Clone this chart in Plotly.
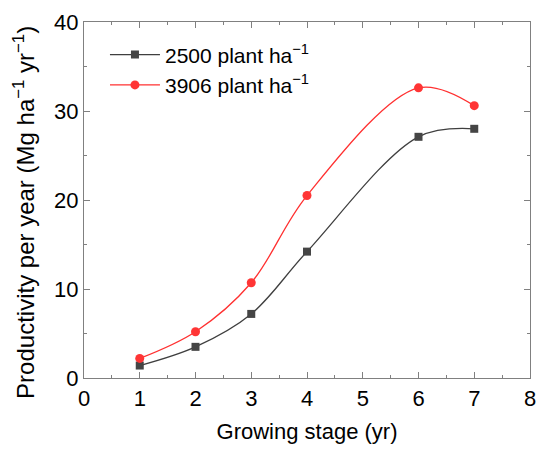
import plotly.graph_objects as go

years = [1, 2, 3, 4, 6, 7]
p2500 = [1.4, 3.5, 7.2, 14.2, 27.1, 28.0]
p3906 = [2.2, 5.2, 10.7, 20.5, 32.6, 30.6]
names = ["2500 plant ha<sup>−1</sup>", "3906 plant ha<sup>−1</sup>"]
x_title = "Growing stage (yr)"
y_title = "Productivity per year (Mg ha<sup>−1</sup> yr<sup>−1</sup>)"

FONT = "Liberation Sans, Arial"

fig = go.Figure()
fig.add_trace(go.Scatter(x=years, y=p2500, name=names[0], mode="lines+markers",
                         line=dict(color="#3f3f3f", width=1.3, shape="spline", smoothing=1),
                         marker=dict(symbol="square", size=8, color="#454545")))
fig.add_trace(go.Scatter(x=years, y=p3906, name=names[1], mode="lines+markers",
                         line=dict(color="#ff3030", width=1.3, shape="spline", smoothing=1),
                         marker=dict(symbol="circle", size=9, color="#ff3535")))

axis_common = dict(showline=True, linecolor="#808080", linewidth=1.2, mirror="ticks",
                   ticks="inside", ticklen=6, tickcolor="#808080", showgrid=False, zeroline=False,
                   automargin=False, ticklabeloverflow="allow",
                   tickfont=dict(family=FONT, size=22, color="black"))
fig.update_xaxes(range=[0, 8], dtick=1,
                 title=dict(text=x_title, font=dict(family=FONT, size=22, color="black"), standoff=14),
                 minor=dict(ticks="inside", ticklen=3, dtick=0.5, tickcolor="#808080"), **axis_common)
fig.update_yaxes(range=[0, 40], dtick=10,
                 minor=dict(ticks="inside", ticklen=3, dtick=5, tickcolor="#808080"), **axis_common)

fig.add_annotation(text=y_title, xref="paper", yref="paper", x=-0.135, y=0.466,
                   xanchor="center", yanchor="middle", textangle=-90, showarrow=False,
                   font=dict(family=FONT, size=24, color="black"))

fig.update_layout(width=536, height=452, margin=dict(l=84, r=6, t=22, b=74),
                  plot_bgcolor="white", paper_bgcolor="white",
                  legend=dict(x=0.047, y=0.965, xanchor="left", yanchor="top",
                              font=dict(family=FONT, size=21, color="black"),
                              bgcolor="rgba(0,0,0,0)", itemwidth=50, tracegroupgap=2),
                  showlegend=True)
# remove the default page margin so the 536x452 figure fills the window exactly
fig.write_html("out.html", config={"displayModeBar": False},
               post_script="document.body.style.margin='0';document.body.style.overflow='hidden';")
